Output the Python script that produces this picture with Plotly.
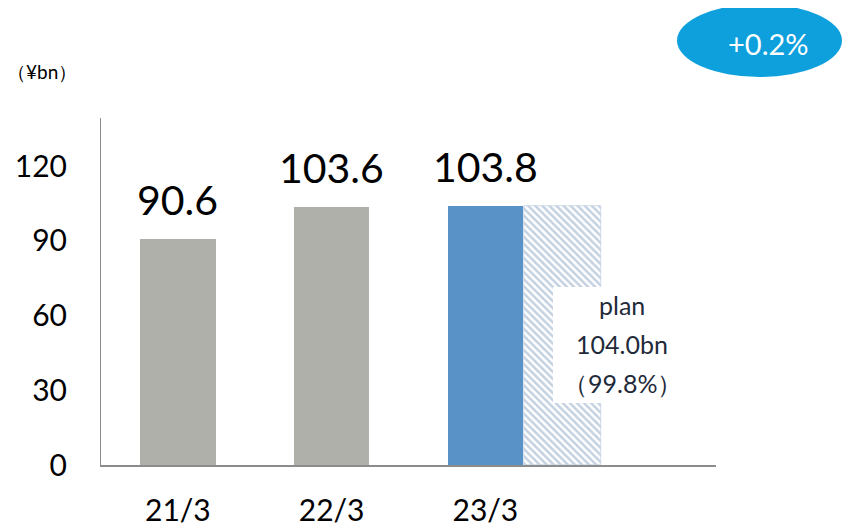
import plotly.graph_objects as go

categories = ["21/3", "22/3", "23/3"]
actual_values = [90.6, 103.6, 103.8]
actual_labels = ["90.6", "103.6", "103.8"]
plan_value = 104.0
plan_lines = ["plan", "104.0bn", "（99.8%）"]
yoy_text = "+0.2%"
y_ticks = [0, 30, 60, 90, 120]
unit_text = "（¥bn）"

FONT = "Lato"
bar_colors = ["#b0b0ab", "#b0b0ab", "#5892c7"]
xs = list(range(len(categories)))

# the page body has an 8px margin: work in screen pixels, shifted by it
OFF = 8
FW, FH = 850 - OFF, 527 - OFF
L, R, T, B = 101 - OFF, 716 - OFF, 118 - OFF, 465 - OFF
W, H = R - L, B - T


def px(x):
    return (x - OFF - L) / W


def py(y):
    return (B - (y - OFF)) / H


fig = go.Figure()
fig.add_trace(go.Bar(
    x=xs, y=actual_values, width=0.49,
    marker=dict(color=bar_colors, line=dict(width=0)),
    showlegend=False,
))
fig.add_trace(go.Bar(
    x=[xs[-1] + 0.5], y=[plan_value], width=0.5,
    marker=dict(color="#ffffff", line=dict(width=0.6, color="#b8c8dc"),
                pattern=dict(shape="\\", fgcolor="#8aa3c4", bgcolor="#ffffff",
                             size=5, solidity=0.5)),
    showlegend=False, hoverinfo="skip",
))

fig.update_layout(
    width=FW, height=FH,
    margin=dict(l=L, r=FW - R, t=T, b=FH - B, autoexpand=False),
    plot_bgcolor="#ffffff", paper_bgcolor="#ffffff",
    barmode="overlay", bargap=0,
    font=dict(family=FONT, color="#000000"),
    xaxis=dict(
        range=[-0.5, 3.5], tickmode="array", tickvals=xs, ticktext=categories,
        showgrid=False, zeroline=False, showline=True, linecolor="#8c8c8c", linewidth=2,
        ticks="", tickfont=dict(size=30, family=FONT, color="#000000"),
        ticklabelstandoff=18, automargin=False,
    ),
    yaxis=dict(
        range=[0, 139.3], tickmode="array", tickvals=y_ticks,
        showgrid=False, zeroline=False, showline=True, linecolor="#8c8c8c", linewidth=1,
        ticks="", tickfont=dict(size=30, family=FONT, color="#000000"),
        ticklabelstandoff=27, automargin=False,
    ),
)

# value labels above bars
for xv, yv, lab in zip(xs, actual_values, actual_labels):
    fig.add_annotation(x=xv, y=yv, xref="x", yref="y", text=lab, showarrow=False,
                       xanchor="center", yanchor="bottom", yshift=13,
                       font=dict(size=41, family=FONT, color="#000000"))

# white box over hatch for plan text
fig.add_shape(type="rect", xref="paper", yref="paper",
              x0=px(553), x1=px(690), y0=py(403), y1=py(287),
              fillcolor="#ffffff", line=dict(width=0), layer="above")
for i, line in enumerate(plan_lines):
    fig.add_annotation(x=px(622), y=py(305 + 39 * i), xref="paper", yref="paper",
                       text=line, showarrow=False, xanchor="center", yanchor="middle",
                       font=dict(size=25, family=FONT, color="#1f2a3a"))

# unit label
fig.add_annotation(x=px(42), y=py(72), xref="paper", yref="paper", text=unit_text,
                   showarrow=False, xanchor="center", yanchor="middle",
                   font=dict(size=19, family=FONT, color="#000000"))

# ellipse with growth rate
fig.add_shape(type="circle", xref="paper", yref="paper",
              x0=px(677), x1=px(842), y0=py(77), y1=py(4),
              fillcolor="#0ea0dc", line=dict(width=0), layer="above")
fig.add_annotation(x=px(768), y=py(43), xref="paper", yref="paper",
                   text=yoy_text, showarrow=False, xanchor="center", yanchor="middle",
                   font=dict(size=29, family=FONT, color="#ffffff"))

fig.write_html("out.html")
